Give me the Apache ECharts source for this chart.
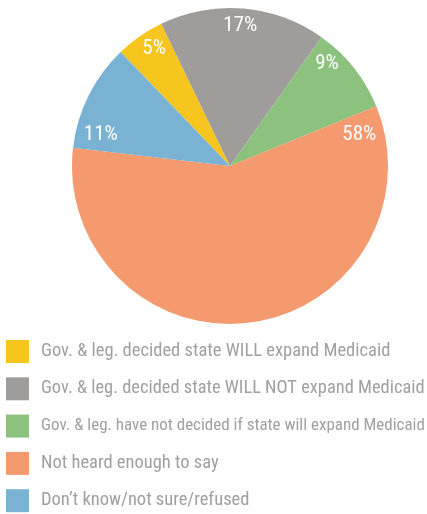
<!DOCTYPE html>
<html>
<head>
<meta charset="utf-8">
<script src="https://cdn.jsdelivr.net/npm/echarts@6/dist/echarts.min.js"></script>
<style>
html,body{margin:0;padding:0;background:#fff;}
#chart{width:427px;height:514px;}
</style>
</head>
<body>
<div id="chart"></div>
<script>
var categories = [
  "Gov. & leg. decided state WILL expand Medicaid",
  "Gov. & leg. decided state WILL NOT expand Medicaid",
  "Gov. & leg. have not decided if state will expand Medicaid",
  "Not heard enough to say",
  "Don\u2019t know/not sure/refused"
];
var values = [5, 17, 9, 58, 11];
var colors = ["#F6C61E", "#9F9C9C", "#8CC27E", "#F59A6E", "#79B2D2"];

// label placement (angle clockwise from top in degrees, distance in px from centre)
var labelAngles = [-32.8, 4.2, 43.5, 76.6, -76.3];
var labelDist = [140, 141, 141, 133, 133];

var CX = 230, CY = 166, R = 158;
var FONT = '"Roboto Condensed", "Liberation Sans", Arial, sans-serif';
var LEGEND_FS = 18.5, LEGEND_MAXW = 384;

// shrink legend text that would not fit the width
var ctx = document.createElement('canvas').getContext('2d');
ctx.font = LEGEND_FS + 'px ' + FONT;
var legendData = categories.map(function (c) {
  var w = ctx.measureText(c).width;
  var fs = w > LEGEND_MAXW ? LEGEND_FS * LEGEND_MAXW / w : LEGEND_FS;
  return {name: c, textStyle: {fontSize: fs}};
});

var chart = echarts.init(document.getElementById('chart'), null, {renderer: 'canvas'});
var data = categories.map(function (c, i) {
  return {name: c, value: values[i], itemStyle: {color: colors[i]}};
});
chart.setOption({
  animation: false,
  legend: {
    orient: 'vertical',
    left: 6,
    top: 340,
    padding: 0,
    itemWidth: 23,
    itemHeight: 23,
    itemGap: 14.3,
    icon: 'rect',
    selectedMode: false,
    data: legendData,
    textStyle: {
      fontFamily: FONT,
      fontSize: LEGEND_FS,
      color: '#A0A0A0',
      padding: [0, 0, 0, 7]
    }
  },
  series: [{
    type: 'pie',
    center: [CX, CY],
    radius: [0, R],
    startAngle: 133.8,
    clockwise: true,
    data: data,
    itemStyle: {borderWidth: 0},
    emphasis: {disabled: true},
    labelLine: {show: false},
    label: {
      show: true,
      position: 'inside',
      formatter: function (p) { return p.value + '%'; },
      color: '#FFFFFF',
      fontFamily: FONT,
      fontSize: 21
    },
    labelLayout: function (p) {
      var a = labelAngles[p.dataIndex] * Math.PI / 180;
      var d = labelDist[p.dataIndex];
      return {
        x: CX + d * Math.sin(a),
        y: CY - d * Math.cos(a),
        align: 'center',
        verticalAlign: 'middle'
      };
    }
  }]
});
</script>
</body>
</html>
